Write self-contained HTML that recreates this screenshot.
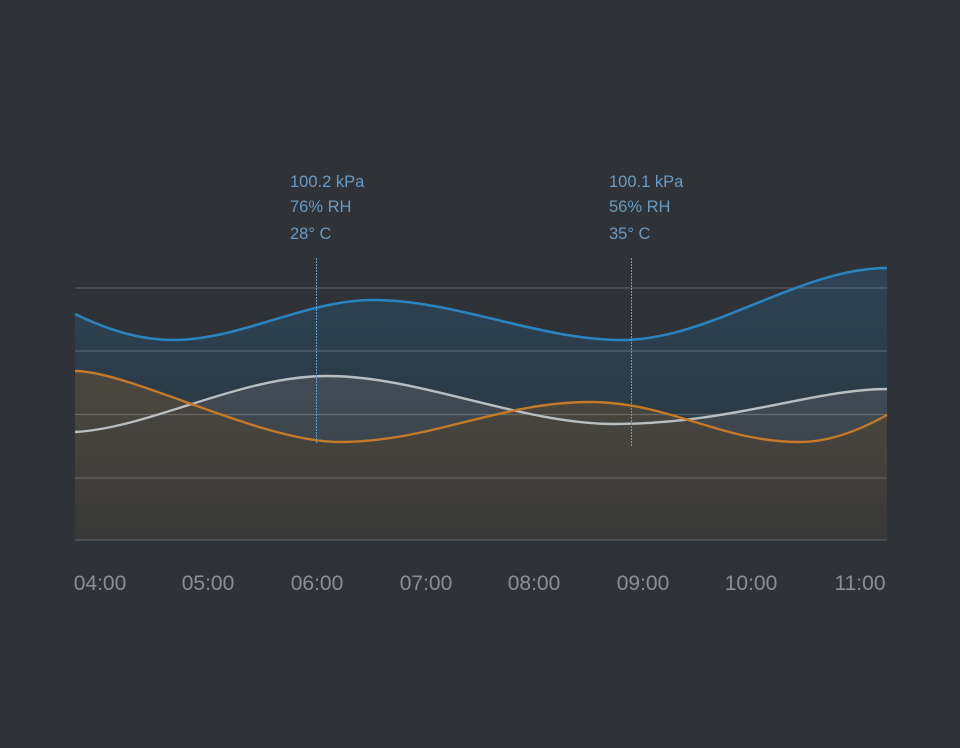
<!DOCTYPE html>
<html>
<head>
<meta charset="utf-8">
<style>
  html, body { margin:0; padding:0; background:#2f3236; }
  svg { display:block; }
  text { font-family: "Liberation Sans", "Helvetica Neue", Arial, sans-serif; }
</style>
</head>
<body>
<svg width="960" height="748" viewBox="0 0 960 748" xmlns="http://www.w3.org/2000/svg">
  <defs>
    <linearGradient id="gBlue" x1="0" y1="268" x2="0" y2="540" gradientUnits="userSpaceOnUse">
      <stop offset="0" stop-color="#2d4354"/>
      <stop offset="0.5" stop-color="#2b3b47"/>
      <stop offset="1" stop-color="#2f3439"/>
    </linearGradient>
    <linearGradient id="gWhite" x1="0" y1="376" x2="0" y2="540" gradientUnits="userSpaceOnUse">
      <stop offset="0" stop-color="#434c55"/>
      <stop offset="0.4" stop-color="#3d454c"/>
      <stop offset="1" stop-color="#36393c"/>
    </linearGradient>
    <linearGradient id="gOrange" x1="0" y1="371" x2="0" y2="540" gradientUnits="userSpaceOnUse">
      <stop offset="0" stop-color="#4a473f"/>
      <stop offset="0.5" stop-color="#44423d"/>
      <stop offset="1" stop-color="#373737"/>
    </linearGradient>
  </defs>

  <rect x="0" y="0" width="960" height="748" fill="#2f3236"/>

  <!-- blue area -->
  <path d="M75,314 C108,330 140,340 173,340 C240,340 306,300 373,300 C456,300 539,340 622,340 C710,340 800,268 887,268 L887,540 L75,540 Z" fill="url(#gBlue)"/>
  <!-- white area -->
  <path d="M75,432 C150,428 240,376 327,376 C420,376 520,424 615,424 C730,424 815,389 887,389 L887,540 L75,540 Z" fill="url(#gWhite)"/>
  <!-- orange area -->
  <path d="M75,371 C130,371 260,442 340,442 C430,442 500,402 590,402 C670,402 720,442 800,442 C830,442 860,430 887,415 L887,540 L75,540 Z" fill="url(#gOrange)"/>

  <!-- gridlines -->
  <g stroke="#ffffff" stroke-opacity="0.2" stroke-width="1.2">
    <line x1="75" y1="288" x2="887" y2="288"/>
    <line x1="75" y1="351" x2="887" y2="351"/>
    <line x1="75" y1="414.5" x2="887" y2="414.5"/>
    <line x1="75" y1="478" x2="887" y2="478"/>
    <line x1="75" y1="540" x2="887" y2="540"/>
  </g>

  <!-- series lines -->
  <path d="M75,314 C108,330 140,340 173,340 C240,340 306,300 373,300 C456,300 539,340 622,340 C710,340 800,268 887,268" fill="none" stroke="#2a84c0" stroke-width="2.6"/>
  <path d="M75,432 C150,428 240,376 327,376 C420,376 520,424 615,424 C730,424 815,389 887,389" fill="none" stroke="#b9bec1" stroke-width="2.4"/>
  <path d="M75,371 C130,371 260,442 340,442 C430,442 500,402 590,402 C670,402 720,442 800,442 C830,442 860,430 887,415" fill="none" stroke="#c47a26" stroke-width="2.4"/>

  <!-- dotted markers -->
  <g stroke="#5c9ed6" stroke-width="1" stroke-dasharray="2 1">
    <line x1="316.5" y1="258" x2="316.5" y2="444"/>
    <line x1="631.5" y1="258" x2="631.5" y2="446"/>
  </g>

  <!-- annotations -->
  <g fill="#6a9bc3" font-size="16.5">
    <text x="290" y="187">100.2 kPa</text>
    <text x="290" y="212">76% RH</text>
    <text x="290" y="239">28° C</text>
    <text x="609" y="187">100.1 kPa</text>
    <text x="609" y="212">56% RH</text>
    <text x="609" y="239">35° C</text>
  </g>

  <!-- x axis labels -->
  <g fill="#8b8f93" font-size="21" text-anchor="middle">
    <text x="100" y="590">04:00</text>
    <text x="208" y="590">05:00</text>
    <text x="317" y="590">06:00</text>
    <text x="426" y="590">07:00</text>
    <text x="534" y="590">08:00</text>
    <text x="643" y="590">09:00</text>
    <text x="751" y="590">10:00</text>
    <text x="860" y="590">11:00</text>
  </g>
</svg>
</body>
</html>
